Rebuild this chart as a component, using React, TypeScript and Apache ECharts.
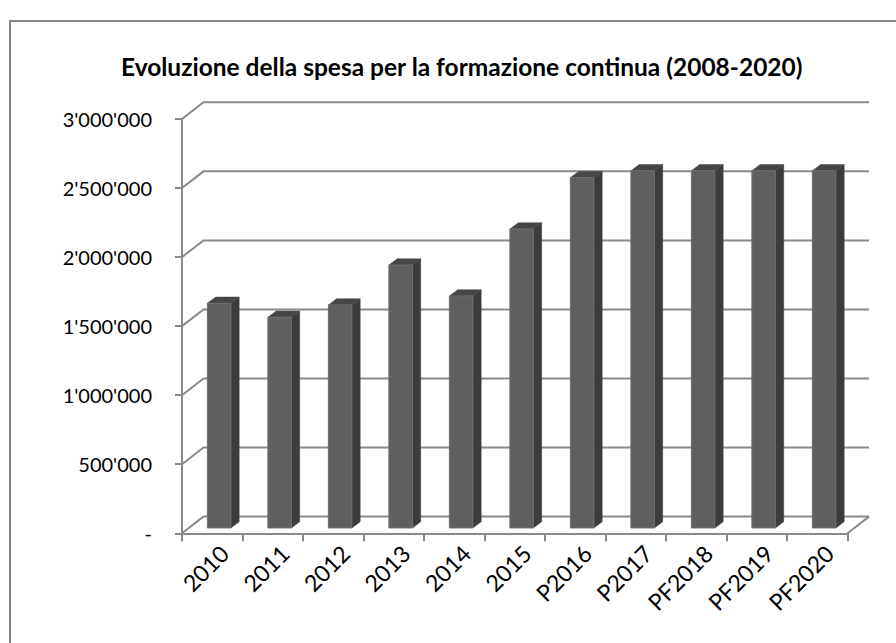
import React, { useEffect, useRef } from "react";
import * as echarts from "echarts";

const categories = ["2010", "2011", "2012", "2013", "2014", "2015", "P2016", "P2017", "PF2018", "PF2019", "PF2020"];
const spending = [1627000, 1526000, 1615000, 1904000, 1680000, 2165000, 2537000, 2587000, 2587000, 2587000, 2587000];
const yTicks = [0, 500000, 1000000, 1500000, 2000000, 2500000, 3000000];
const titleText = "Evoluzione della spesa per la formazione continua (2008-2020)";

const DX = 21.5;
const DY = -16.7;
const DEPTH_F = 0.32;
const BW = 23.5;
const BDX = 8.3;
const BDY = -6.2;
const GRID_COLOR = "#8a8a8a";
const FONT = "Lato";

function fmt(v: number): string {
  if (v === 0) return "-";
  return String(v).replace(/\B(?=(\d{3})+(?!\d))/g, "'");
}

export default function App() {
  const ref = useRef<HTMLDivElement>(null);
  useEffect(() => {
    if (!ref.current) return;
    const chart = echarts.init(ref.current, null, { renderer: "svg" });
    const option: any = {
      animation: false,
      backgroundColor: "#ffffff",
      title: {
        text: titleText,
        left: 116,
        top: 49,
        textStyle: { fontFamily: FONT, fontWeight: "bold", fontSize: 24.5, color: "#000" },
      },
      graphic: [
        {
          type: "rect",
          shape: { x: 10, y: 21, width: 900, height: 700 },
          style: { fill: "none", stroke: "#878787", lineWidth: 2 },
          silent: true,
        },
      ],
      grid: { left: 182, top: 119, width: 665.5, height: 414.3 },
      xAxis: {
        type: "category",
        data: categories,
        axisLine: { show: true, lineStyle: { color: GRID_COLOR, width: 2 } },
        axisTick: { show: true, length: 8, lineStyle: { color: GRID_COLOR, width: 2 } },
        axisLabel: { show: false },
        splitLine: { show: false },
      },
      yAxis: {
        type: "value",
        min: 0,
        max: 3000000,
        interval: 500000,
        axisLine: { show: true, lineStyle: { color: GRID_COLOR, width: 2 } },
        axisTick: { show: true, length: 7, lineStyle: { color: GRID_COLOR, width: 2 } },
        axisLabel: {
          margin: 30,
          fontFamily: FONT,
          fontSize: 20,
          color: "#000",
          formatter: (v: number) => fmt(v),
        },
        splitLine: { show: false },
      },
      series: [
        {
          type: "custom",
          name: "frame",
          z: 1,
          silent: true,
          data: yTicks.map((v) => [0, v]),
          renderItem: (params: any, api: any) => {
            const cs = params.coordSys;
            const x0 = cs.x;
            const x1 = cs.x + cs.width;
            const v = api.value(1);
            const y = api.coord([0, v])[1];
            const children: any[] = [
              {
                type: "polyline",
                shape: { points: [[x0, y], [x0 + DX, y + DY], [x1 + DX, y + DY]] },
                style: { stroke: GRID_COLOR, lineWidth: 2, fill: "none" },
              },
            ];
            if (v === 0) {
              children.push({
                type: "line",
                shape: { x1: x1, y1: y, x2: x1 + DX, y2: y + DY },
                style: { stroke: GRID_COLOR, lineWidth: 2 },
              });
            }
            return { type: "group", children };
          },
        },
        {
          type: "custom",
          name: "labels",
          z: 2,
          silent: true,
          data: categories.map((c, i) => [i, 0]),
          renderItem: (params: any, api: any) => {
            const i = api.value(0);
            const p = api.coord([i, 0]);
            return {
              type: "text",
              x: p[0] + 12,
              y: p[1] + 16,
              rotation: Math.PI / 4,
              style: {
                text: categories[i],
                fontFamily: FONT,
                fontSize: 23,
                fill: "#000",
                align: "right",
                verticalAlign: "middle",
              },
            };
          },
        },
        {
          type: "custom",
          name: "Spesa",
          z: 3,
          data: spending.map((v, i) => [i, v]),
          renderItem: (params: any, api: any) => {
            const i = api.value(0);
            const v = api.value(1);
            const top = api.coord([i, v]);
            const base = api.coord([i, 0]);
            const xl = top[0] + DEPTH_F * DX - BW / 2;
            const xr = xl + BW;
            const yb = base[1] + DEPTH_F * DY;
            const yt = top[1] + DEPTH_F * DY;
            return {
              type: "group",
              children: [
                {
                  type: "polygon",
                  shape: { points: [[xr, yb], [xr, yt], [xr + BDX, yt + BDY], [xr + BDX, yb + BDY]] },
                  style: { fill: "#3c3c3c", stroke: "#3c3c3c", lineWidth: 0.5 },
                },
                {
                  type: "polygon",
                  shape: { points: [[xl, yt], [xr, yt], [xr + BDX, yt + BDY], [xl + BDX, yt + BDY]] },
                  style: { fill: "#464646", stroke: "#464646", lineWidth: 0.5 },
                },
                {
                  type: "rect",
                  shape: { x: xl, y: yt, width: BW, height: yb - yt },
                  style: { fill: "#5f5f5f", stroke: "#6e6e6e", lineWidth: 1 },
                },
              ],
            };
          },
        },
      ],
    };
    chart.setOption(option);
    return () => chart.dispose();
  }, []);
  return (
    <div
      ref={ref}
      style={{ position: "fixed", left: 0, top: 0, width: 896, height: 643, background: "#fff" }}
    />
  );
}
